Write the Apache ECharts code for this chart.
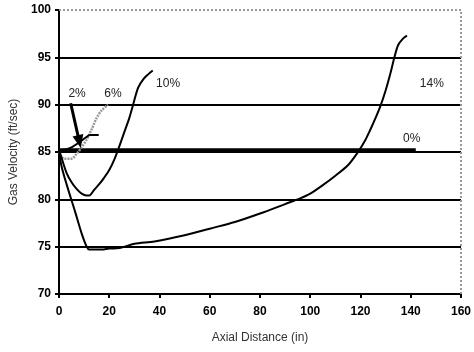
<!DOCTYPE html>
<html>
<head>
<meta charset="utf-8">
<script src="https://cdn.jsdelivr.net/npm/echarts@6/dist/echarts.min.js"></script>
<style>
  html, body { margin: 0; padding: 0; background: #fff; }
  #chart { width: 474px; height: 352px; }
</style>
</head>
<body>
<div id="chart"></div>
<script>
// Gas velocity profiles along the axial distance for several cases
const xTicks = [0, 20, 40, 60, 80, 100, 120, 140, 160];
const yTicks = [70, 75, 80, 85, 90, 95, 100];

const seriesNames = ['0%', '2%', '6%', '10%', '14%'];

const pct0 = [[0, 85.15], [142, 85.15]];

const pct2 = [[0, 85.2], [3, 85.3], [5, 85.5], [8, 86.0], [10.5, 86.5], [12.3, 86.8], [15.8, 86.8]];

const pct6 = [[0, 85.0], [1, 84.5], [2, 84.3], [5, 84.3], [7, 84.8], [9, 85.5], [11, 86.3],
  [13, 87.4], [15, 88.6], [17, 89.4], [19.5, 90.0]];

const pct10 = [[0, 85.2], [1, 84.4], [3, 82.8], [5, 81.8], [7, 81.1], [9, 80.6], [11, 80.4],
  [12, 80.4], [14, 81.0], [16, 81.6], [18, 82.3], [20, 83.1], [22, 84.2], [24, 85.6],
  [26, 87.1], [28, 88.6], [29.5, 90.0], [31.5, 91.8], [33.6, 92.7], [35.5, 93.2], [37.3, 93.6]];

const pct14 = [[0, 85.2], [1, 83.5], [3.7, 81.0], [6.4, 78.7], [9, 76.4], [11, 75.0], [12, 74.7],
  [17, 74.7], [20, 74.8], [24, 74.85], [30, 75.3], [38, 75.55], [50, 76.2], [60, 76.9],
  [70, 77.6], [80, 78.5], [90, 79.5], [96, 80.1], [100, 80.6], [105, 81.5], [110, 82.5],
  [115, 83.6], [119, 85.0], [122, 86.3], [124, 87.4], [126, 88.6], [128, 89.9], [130, 91.5],
  [132, 93.4], [133.5, 95.0], [135, 96.3], [137, 97.0], [138.5, 97.3]];

const FONT = 'Liberation Sans, Arial, sans-serif';

// a text tag anchored at a data coordinate
function tag(text, x, y) {
  return {
    name: text,
    coord: [x, y],
    symbol: 'rect',
    symbolSize: [28, 14],
    itemStyle: { color: 'rgba(255,255,255,0)' },
    label: {
      show: true, formatter: '{b}', position: 'inside',
      color: '#222', fontSize: 12, fontFamily: FONT
    }
  };
}

const chart = echarts.init(document.getElementById('chart'), null, { renderer: 'canvas' });

chart.setOption({
  animation: false,
  backgroundColor: '#fff',
  grid: { left: 59, right: 13, top: 10, bottom: 58, containLabel: false },
  xAxis: {
    type: 'value', min: xTicks[0], max: xTicks[xTicks.length - 1], interval: 20,
    name: 'Axial Distance (in)', nameLocation: 'middle', nameGap: 38,
    nameTextStyle: { color: '#333', fontSize: 12, fontFamily: FONT },
    axisLine: { show: true, lineStyle: { color: '#000', width: 2 } },
    axisTick: { show: true, length: 4, lineStyle: { color: '#000', width: 2 } },
    axisLabel: { color: '#000', fontSize: 12, fontWeight: 'bold', fontFamily: FONT, margin: 12 },
    splitLine: { show: false }
  },
  yAxis: {
    type: 'value', min: yTicks[0], max: yTicks[yTicks.length - 1], interval: 5,
    name: 'Gas Velocity (ft/sec)', nameLocation: 'middle', nameGap: 38,
    nameTextStyle: { color: '#333', fontSize: 12, fontFamily: FONT },
    axisLine: { show: true, lineStyle: { color: '#000', width: 2 } },
    axisTick: { show: true, length: 4, lineStyle: { color: '#000', width: 2 } },
    axisLabel: { color: '#000', fontSize: 12, fontWeight: 'bold', fontFamily: FONT, margin: 8 },
    splitLine: {
      show: true,
      lineStyle: { width: 2, color: ['#000', '#000', '#000', '#000', '#000', '#000', 'rgba(0,0,0,0)'] }
    }
  },
  series: [
    {
      // frame: dotted top and right border
      type: 'line', data: [], silent: true,
      markLine: {
        silent: true, symbol: 'none', label: { show: false },
        lineStyle: { color: '#999', width: 2, type: 'dotted' },
        data: [
          [{ coord: [0, 100] }, { coord: [160, 100] }],
          [{ coord: [160, 70] }, { coord: [160, 100] }]
        ]
      }
    },
    {
      name: seriesNames[0], type: 'line', data: pct0, showSymbol: false,
      lineStyle: { color: '#000', width: 4.5 },
      markPoint: { silent: true, data: [tag('0%', 140.4, 86.45)] }
    },
    {
      name: seriesNames[2], type: 'line', data: pct6, showSymbol: false, smooth: 0.3,
      lineStyle: { color: '#999', width: 2.5, type: [2, 1] },
      markPoint: { silent: true, data: [tag('6%', 21.5, 91.2)] }
    },
    {
      name: seriesNames[1], type: 'line', data: pct2, showSymbol: false, smooth: 0.2,
      lineStyle: { color: '#000', width: 2 },
      markPoint: { silent: true, data: [tag('2%', 7.2, 91.2)] },
      markLine: {
        silent: true, symbol: ['none', 'triangle'], symbolSize: [11, 13],
        label: { show: false },
        lineStyle: { color: '#000', width: 3, type: 'solid' },
        data: [[{ coord: [4.65, 90.15] }, { coord: [8.1, 86.1] }]]
      }
    },
    {
      name: seriesNames[3], type: 'line', data: pct10, showSymbol: false, smooth: 0.3,
      lineStyle: { color: '#000', width: 2 },
      markPoint: { silent: true, data: [tag('10%', 43.4, 92.2)] }
    },
    {
      name: seriesNames[4], type: 'line', data: pct14, showSymbol: false, smooth: 0.3,
      lineStyle: { color: '#000', width: 2 },
      markPoint: { silent: true, data: [tag('14%', 148.4, 92.2)] }
    }
  ]
});
</script>
</body>
</html>
